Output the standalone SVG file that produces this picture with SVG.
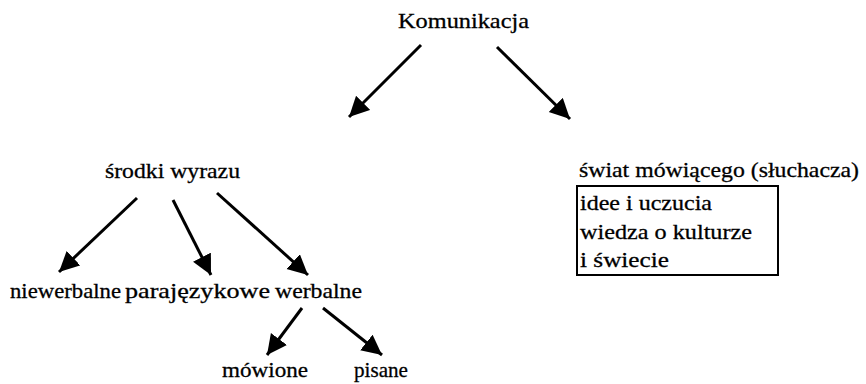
<svg xmlns="http://www.w3.org/2000/svg" width="866" height="384" viewBox="0 0 866 384">
<defs>
<marker id="ah" markerUnits="userSpaceOnUse" markerWidth="24" markerHeight="22" refX="20" refY="10" orient="auto">
<path d="M0,0 L20,10 L0,20 z" fill="#000"/>
</marker>
</defs>
<rect width="866" height="384" fill="#fff"/>
<g font-family="'Liberation Serif', 'Times New Roman', 'DejaVu Serif', serif" font-size="22" fill="#000" stroke="#000" stroke-width="0.3">
<g id="komunikacja"><text x="398" y="28" textLength="131" lengthAdjust="spacingAndGlyphs">Komunikacja</text></g>
<g id="srodki"><text x="105" y="178" textLength="135" lengthAdjust="spacingAndGlyphs">środki wyrazu</text></g>
<g id="swiat">
<text x="579" y="177" textLength="280" lengthAdjust="spacingAndGlyphs">świat mówiącego (słuchacza)</text>
<rect x="577" y="186" width="201" height="89" fill="none" stroke="#000" stroke-width="2"/>
<text x="580" y="210" textLength="132" lengthAdjust="spacingAndGlyphs">idee i uczucia</text>
<text x="580" y="238.5" textLength="172" lengthAdjust="spacingAndGlyphs">wiedza o kulturze</text>
<text x="580" y="267" textLength="89" lengthAdjust="spacingAndGlyphs">i świecie</text>
</g>
<g id="niewerbalne"><text x="10" y="298" textLength="111" lengthAdjust="spacingAndGlyphs">niewerbalne</text></g>
<g id="parajezykowe"><text x="125" y="298" textLength="145" lengthAdjust="spacingAndGlyphs">parajęzykowe</text></g>
<g id="werbalne"><text x="275" y="298" textLength="87" lengthAdjust="spacingAndGlyphs">werbalne</text></g>
<g id="mowione"><text x="222" y="377" textLength="86" lengthAdjust="spacingAndGlyphs">mówione</text></g>
<g id="pisane"><text x="354" y="377" textLength="54" lengthAdjust="spacingAndGlyphs">pisane</text></g>
</g>
<g id="connectors" stroke="#000" stroke-width="3" marker-end="url(#ah)">
<line x1="421" y1="45" x2="349" y2="117"/>
<line x1="497" y1="47" x2="570" y2="119"/>
<line x1="137" y1="198" x2="59" y2="272"/>
<line x1="173" y1="200" x2="211" y2="275"/>
<line x1="217" y1="193" x2="308" y2="275"/>
<line x1="302" y1="308" x2="267" y2="355"/>
<line x1="323" y1="308" x2="382" y2="355"/>
</g>
</svg>
